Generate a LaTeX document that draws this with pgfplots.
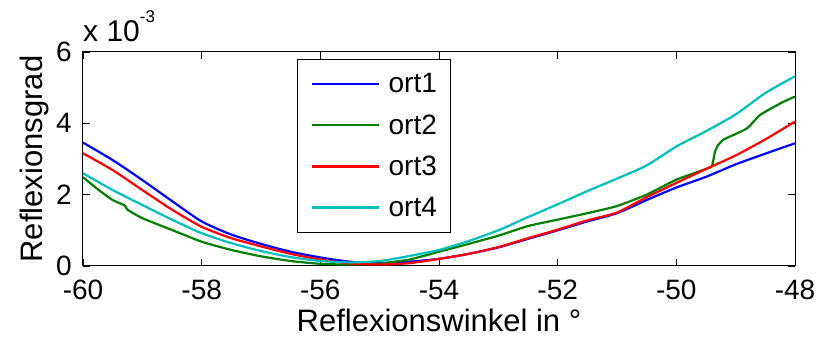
\documentclass[border=0pt]{standalone}
\usepackage{pgfplots}
\pgfplotsset{compat=1.18}
\usepackage{fontspec}
\setmainfont{Liberation Sans}
\definecolor{mgreen}{rgb}{0,0.5,0}
\definecolor{mcyan}{rgb}{0,0.75,0.75}
\begin{document}
\begin{tikzpicture}
\begin{axis}[
  name=ax,
  scale only axis,
  width=712pt, height=214pt,
  xmin=-60, xmax=-48, ymin=0, ymax=6,
  xtick={-60,-58,-56,-54,-52,-50,-48},
  xticklabels={-60,-58,-56,-54,-52,-50,-48},
  ytick={0,2,4,6},
  yticklabels={0,2,4,6},
  tick align=inside,
  major tick length=7pt,
  tick style={black, line width=0.9pt},
  axis line style={line width=1pt},
  font=\fontsize{31}{36}\selectfont,
  ticklabel style={font=\fontsize{28}{32}\selectfont, inner sep=0pt},
  xticklabel style={anchor=north, yshift=-14pt},
  yticklabel style={anchor=east, xshift=-11pt},
  xlabel={Reflexionswinkel in °},
  ylabel={Reflexionsgrad},
  xlabel style={at={(axis description cs:0.5,0)}, anchor=base, yshift=-66pt, inner sep=0pt},
  ylabel style={at={(axis description cs:-0.0575,0.5)}, anchor=base, inner sep=0pt},
  legend cell align=left,
  legend style={at={(0.3006,0.967)}, anchor=north west, draw=black, line width=1pt,
     font=\fontsize{28}{32}\selectfont, nodes={inner sep=0pt},
     row sep=20.3pt, column sep=8pt, inner xsep=13.5pt, inner ysep=14pt},
  legend image code/.code={\draw[#1, line width=2.6pt] (0pt,0pt) -- (67pt,0pt);},
]
\addplot[blue, line width=2.2pt, smooth, tension=0.4] coordinates {
(-60,3.46) (-59.5,2.97) (-59,2.41) (-58.5,1.82) (-58,1.25) (-57.5,0.88) (-57,0.62) (-56.5,0.40) (-56,0.24) (-55.5,0.12) (-55,0.08) (-54.5,0.12) (-54,0.20) (-53.5,0.34) (-53,0.52) (-52.5,0.76) (-52,1.00) (-51.5,1.25) (-51,1.48) (-50.5,1.85) (-50,2.20) (-49.5,2.50) (-49,2.85) (-48.5,3.15) (-48,3.44)
};
\addlegendentry{ort1}
\addplot[mgreen, line width=2.2pt, smooth, tension=0.3] coordinates {
(-60,2.49) (-59.75,2.15) (-59.5,1.85) (-59.3,1.70) (-59.25,1.58) (-59,1.34) (-58.5,1.01) (-58,0.68) (-57.5,0.45) (-57,0.27) (-56.5,0.14) (-56,0.06) (-55.5,0.04) (-55,0.07) (-54.5,0.18) (-54,0.40) (-53.5,0.62) (-53,0.85) (-52.5,1.12) (-52,1.30) (-51.5,1.48) (-51,1.68) (-50.5,2.00) (-50,2.42) (-49.5,2.72) (-49.4,2.80) (-49.35,3.20) (-49.3,3.38) (-49.2,3.55) (-49,3.70) (-48.8,3.87) (-48.6,4.22) (-48.4,4.42) (-48.2,4.60) (-48,4.75)
};
\addlegendentry{ort2}
\addplot[red, line width=2.2pt, smooth, tension=0.4] coordinates {
(-60,3.16) (-59.5,2.69) (-59,2.13) (-58.5,1.58) (-58,1.10) (-57.5,0.78) (-57,0.55) (-56.5,0.34) (-56,0.18) (-55.5,0.07) (-55,0.04) (-54.5,0.08) (-54,0.20) (-53.5,0.34) (-53,0.53) (-52.5,0.78) (-52,1.02) (-51.5,1.28) (-51,1.50) (-50.5,1.93) (-50,2.33) (-49.5,2.72) (-49,3.10) (-48.5,3.55) (-48,4.05)
};
\addlegendentry{ort3}
\addplot[mcyan, line width=2.2pt, smooth, tension=0.4] coordinates {
(-60,2.60) (-59.5,2.13) (-59,1.71) (-58.5,1.30) (-58,0.92) (-57.5,0.64) (-57,0.42) (-56.5,0.25) (-56,0.14) (-55.5,0.10) (-55,0.14) (-54.5,0.28) (-54,0.45) (-53.5,0.70) (-53,1.00) (-52.5,1.37) (-52,1.73) (-51.5,2.10) (-51,2.45) (-50.5,2.82) (-50,3.35) (-49.5,3.78) (-49,4.25) (-48.5,4.85) (-48,5.32)
};
\addlegendentry{ort4}
\end{axis}
\node[anchor=base west, inner sep=0pt, font=\fontsize{30}{34}\selectfont] at ([yshift=10pt]ax.north west) {x 10\raisebox{19pt}{\fontsize{17}{17}\selectfont -3}};
\pgfresetboundingbox
\path[use as bounding box] ([shift={(-83pt,-73pt)}]ax.south west) rectangle ([shift={(30pt,52pt)}]ax.north east);
\end{tikzpicture}
\end{document}
